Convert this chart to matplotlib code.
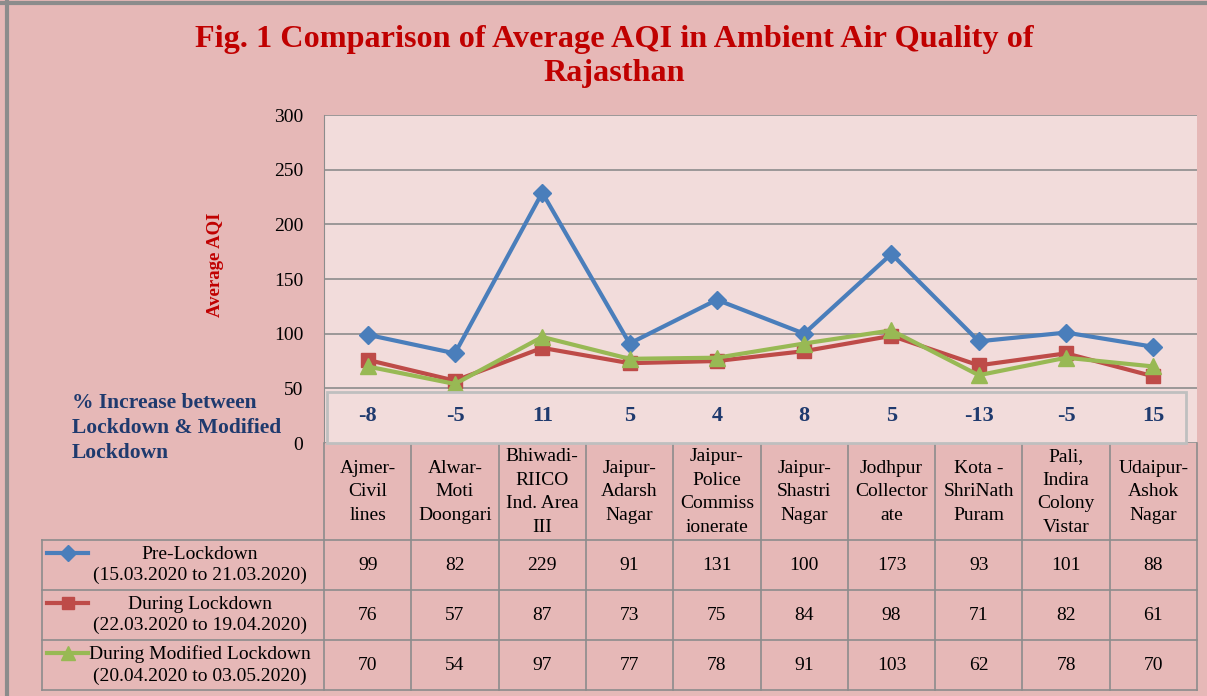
import matplotlib.pyplot as plt
from matplotlib.patches import Rectangle
from matplotlib.lines import Line2D

# === 数据 ===
stations = ["Ajmer-\nCivil\nlines", "Alwar-\nMoti\nDoongari", "Bhiwadi-\nRIICO\nInd. Area\nIII",
            "Jaipur-\nAdarsh\nNagar", "Jaipur-\nPolice\nCommiss\nionerate", "Jaipur-\nShastri\nNagar",
            "Jodhpur\nCollector\nate", "Kota -\nShriNath\nPuram", "Pali,\nIndira\nColony\nVistar",
            "Udaipur-\nAshok\nNagar"]
pre_lockdown = [99, 82, 229, 91, 131, 100, 173, 93, 101, 88]
during_lockdown = [76, 57, 87, 73, 75, 84, 98, 71, 82, 61]
modified_lockdown = [70, 54, 97, 77, 78, 91, 103, 62, 78, 70]
pct_increase = [-8, -5, 11, 5, 4, 8, 5, -13, -5, 15]
series_labels = ["Pre-Lockdown\n(15.03.2020 to 21.03.2020)",
                 "During Lockdown\n(22.03.2020 to 19.04.2020)",
                 "During Modified Lockdown\n(20.04.2020 to 03.05.2020)"]
y_ticks = [0, 50, 100, 150, 200, 250, 300]

# === 样式 ===
W, H = 1207, 696
bg = '#e6b8b7'
plot_bg = '#f2dcdb'
grid_c = '#8c8c8c'
navy = '#1f3a6e'
colors = ['#4a7ebb', '#be4b48', '#98b954']
markers = ['D', 's', '^']
msizes = [9, 10, 11]
serif = ['Liberation Serif', 'DejaVu Serif']
plt.rcParams['font.family'] = serif

fig = plt.figure(figsize=(W / 100, H / 100), dpi=100, facecolor=bg)

# 图区 (像素位置)
px_l, px_r, px_t, px_b = 324, 1197, 115, 443
ax = fig.add_axes([px_l / W, 1 - px_b / H, (px_r - px_l) / W, (px_b - px_t) / H])
ax.set_facecolor(plot_bg)
xs = list(range(len(stations)))
all_series = [pre_lockdown, during_lockdown, modified_lockdown]
for vals, c, m, ms in zip(all_series, colors, markers, msizes):
    ax.plot(xs, vals, color=c, marker=m, markersize=ms, linewidth=3, zorder=3)
ax.set_xlim(-0.5, len(stations) - 0.5)
ax.set_ylim(0, 300)
ax.set_yticks(y_ticks)
ax.set_xticks([])
ax.grid(axis='y', color=grid_c, linewidth=1.2)
ax.set_axisbelow(True)
for s in ['top', 'right', 'bottom']:
    ax.spines[s].set_visible(False)
ax.spines['left'].set_color(grid_c)
ax.tick_params(axis='y', length=0, pad=15, labelsize=14)

# 覆盖层 (像素坐标)
ov = fig.add_axes([0, 0, 1, 1], facecolor='none')
ov.set_xlim(0, W)
ov.set_ylim(H, 0)
ov.axis('off')

# 外框
ov.plot([0, W], [3, 3], color='#8c8c8c', lw=3)
ov.plot([7, 7], [0, H], color='#8c8c8c', lw=3)

# 标题
fig.text(614 / W, 1 - 39 / H, "Fig. 1 Comparison of Average AQI in Ambient Air Quality of",
         ha='center', va='center', fontsize=23.2, fontweight='bold', color='#c00000')
fig.text(614 / W, 1 - 73 / H, "Rajasthan",
         ha='center', va='center', fontsize=23.2, fontweight='bold', color='#c00000')

# Y 轴标题
fig.text(215 / W, 1 - 265 / H, "Average AQI", rotation=90, ha='center', va='center',
         fontsize=13.5, fontweight='bold', color='#c00000')

# % 增长框
ov.add_patch(Rectangle((327, 392), 1186 - 327, 443 - 392, facecolor=plot_bg,
                       edgecolor='#bfbfbf', lw=2, zorder=4))
col_w = (px_r - px_l) / len(stations)
for i, v in enumerate(pct_increase):
    ov.text(px_l + (i + 0.5) * col_w, 416, str(v), ha='center', va='center',
            fontsize=16, fontweight='bold', color=navy, zorder=5)
ov.text(72, 428, "% Increase between\nLockdown & Modified\nLockdown", ha='left', va='center',
        fontsize=15.5, fontweight='bold', color=navy, linespacing=1.3)

# 数据表
row_y = [443, 540, 590, 640, 690]
tc = '#8c8c8c'
for i in range(len(stations) + 1):
    x = px_l + i * col_w
    ov.plot([x, x], [443, 690], color=tc, lw=1.2)
ov.plot([42, 42], [540, 690], color=tc, lw=1.2)
for y in row_y[1:]:
    ov.plot([42, px_r], [y, y], color=tc, lw=1.2)

for i, name in enumerate(stations):
    ov.text(px_l + (i + 0.5) * col_w, 492, name, ha='center', va='center',
            fontsize=14, linespacing=1.5)

for r, (vals, lab, c, m, ms) in enumerate(zip(all_series, series_labels, colors, markers, msizes)):
    yc = (row_y[r + 1] + row_y[r + 2]) / 2
    for i, v in enumerate(vals):
        ov.text(px_l + (i + 0.5) * col_w, yc, str(v), ha='center', va='center', fontsize=14)
    ov.text(200, yc, lab, ha='center', va='center', fontsize=14, linespacing=1.3)
    ov.add_line(Line2D([47, 88], [yc - 12, yc - 12], color=c, lw=3))
    ov.add_line(Line2D([67.5], [yc - 12], color=c, marker=m, markersize=ms - 1))

fig.savefig('out.png', dpi=100, facecolor=bg)
